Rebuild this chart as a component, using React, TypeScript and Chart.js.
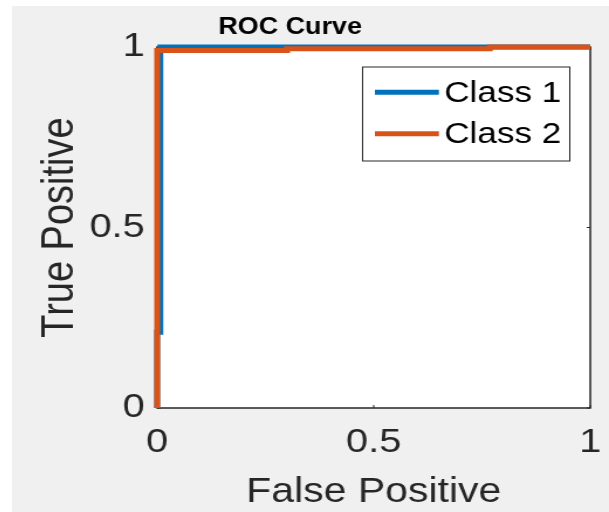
import React, { useEffect, useRef } from "react";
import { Chart, registerables } from "chart.js";

Chart.register(...registerables);

// ROC operating points (false positive rate, true positive rate)
const class1FPR = [0, 0, 0.006, 0.006, 0.008, 0.008, 1];
const class1TPR = [0, 0.21, 0.21, 0.625, 0.625, 1, 1];
const class2FPR = [0, 0, 0.3, 0.3, 0.768, 0.768, 1];
const class2TPR = [0, 0.99, 0.99, 0.995, 0.995, 1, 1];

const seriesNames = ["Class 1", "Class 2"];
const seriesColors = ["#0072BD", "#D95319"];
const axisTicks = [0, 0.5, 1];

const chartTitle = "ROC Curve";
const xTitle = "False Positive";
const yTitle = "True Positive";

const FONT = "'Liberation Sans', Arial, Helvetica, sans-serif";
const AXIS_COLOR = "#262626";
const FIGURE_BG = "#f0f0f0";

// The figure is rendered on a narrower backing canvas and widened by CSS.
const RENDER_W = 510;
const RENDER_H = 506;
const DISPLAY_W = 597;

const toPoints = (xs: number[], ys: number[]) => xs.map((x, i) => ({ x, y: ys[i] }));

const figurePlugin = {
  id: "figureDecor",
  beforeDraw(chart: any) {
    const { ctx, chartArea: a } = chart;
    ctx.save();
    ctx.fillStyle = FIGURE_BG;
    ctx.fillRect(0, 0, chart.width, chart.height);
    ctx.fillStyle = "#ffffff";
    ctx.fillRect(a.left, a.top, a.right - a.left, a.bottom - a.top);

    // title
    ctx.fillStyle = "#000000";
    ctx.font = `bold 23px ${FONT}`;
    ctx.textAlign = "center";
    ctx.textBaseline = "middle";
    ctx.fillText(chartTitle, a.left + 0.307 * (a.right - a.left), a.top - 19);
    ctx.restore();
  },
  beforeDatasetsDraw(chart: any) {
    const { ctx, chartArea: a, scales } = chart;
    ctx.save();
    ctx.strokeStyle = AXIS_COLOR;
    ctx.lineWidth = 1.5;
    ctx.strokeRect(a.left, a.top, a.right - a.left, a.bottom - a.top);
    // inward tick marks on all four sides
    ctx.lineWidth = 1;
    const len = 3;
    for (const v of axisTicks) {
      const px = scales.x.getPixelForValue(v);
      ctx.beginPath();
      ctx.moveTo(px, a.bottom);
      ctx.lineTo(px, a.bottom - len);
      ctx.moveTo(px, a.top);
      ctx.lineTo(px, a.top + len);
      const py = scales.y.getPixelForValue(v);
      ctx.moveTo(a.left, py);
      ctx.lineTo(a.left + len, py);
      ctx.moveTo(a.right, py);
      ctx.lineTo(a.right - len, py);
      ctx.stroke();
    }
    ctx.restore();
  },
  afterDatasetsDraw(chart: any) {
    const { ctx, chartArea: a } = chart;
    const boxW = 177;
    const boxH = 94;
    const bx = a.right - 17.5 - boxW;
    const by = a.top + 20;
    ctx.save();
    ctx.fillStyle = "#ffffff";
    ctx.fillRect(bx, by, boxW, boxH);
    ctx.strokeStyle = AXIS_COLOR;
    ctx.lineWidth = 1;
    ctx.strokeRect(bx, by, boxW, boxH);
    chart.data.datasets.forEach((ds: any, i: number) => {
      const y = by + 25.3 + i * 41.4;
      ctx.strokeStyle = ds.borderColor;
      ctx.lineWidth = 5;
      ctx.beginPath();
      ctx.moveTo(bx + 10.5, y);
      ctx.lineTo(bx + 65.2, y);
      ctx.stroke();
      ctx.fillStyle = "#000000";
      ctx.font = `30px ${FONT}`;
      ctx.textAlign = "left";
      ctx.textBaseline = "middle";
      ctx.fillText(ds.label, bx + 69.7, y + 1);
    });
    ctx.restore();
  },
};

export default function App() {
  const canvasRef = useRef<HTMLCanvasElement | null>(null);

  useEffect(() => {
    const canvas = canvasRef.current;
    if (!canvas) return;
    const setTicks = (s: any) => {
      s.ticks = axisTicks.map((v) => ({ value: v }));
    };
    const chart = new Chart(canvas, {
      type: "scatter",
      data: {
        datasets: [
          {
            label: seriesNames[0],
            data: toPoints(class1FPR, class1TPR),
            borderColor: seriesColors[0],
            backgroundColor: seriesColors[0],
            borderWidth: 5,
            showLine: true,
            pointRadius: 0,
            fill: false,
            clip: false as any,
            order: 2,
            borderJoinStyle: "miter",
            borderCapStyle: "butt",
          },
          {
            label: seriesNames[1],
            data: toPoints(class2FPR, class2TPR),
            borderColor: seriesColors[1],
            backgroundColor: seriesColors[1],
            borderWidth: 5,
            showLine: true,
            pointRadius: 0,
            fill: false,
            clip: false as any,
            order: 1,
            borderJoinStyle: "miter",
            borderCapStyle: "butt",
          },
        ],
      },
      options: {
        responsive: false,
        devicePixelRatio: 1,
        animation: false,
        events: [],
        layout: { padding: { top: 41, right: 16, bottom: 0, left: 0 } },
        plugins: {
          legend: { display: false },
          title: { display: false },
          tooltip: { enabled: false },
        },
        scales: {
          x: {
            type: "linear",
            min: 0,
            max: 1,
            afterBuildTicks: setTicks,
            afterFit: (s: any) => {
              s.height = 104;
              s.paddingLeft = 0;
              s.paddingRight = 0;
            },
            grid: { display: false, drawTicks: false },
            border: { display: false },
            ticks: {
              color: AXIS_COLOR,
              font: { family: FONT, size: 34 },
              padding: 14,
              maxRotation: 0,
              autoSkip: false,
              callback: (v: any) => String(v),
            },
            title: {
              display: true,
              text: xTitle,
              color: AXIS_COLOR,
              font: { family: FONT, size: 35, lineHeight: 1.1 },
              padding: 0,
            },
          },
          y: {
            type: "linear",
            min: 0,
            max: 1,
            afterBuildTicks: setTicks,
            afterFit: (s: any) => {
              s.width = 124;
              s.paddingTop = 0;
              s.paddingBottom = 0;
            },
            grid: { display: false, drawTicks: false },
            border: { display: false },
            ticks: {
              color: AXIS_COLOR,
              font: { family: FONT, size: 34 },
              padding: 10.6,
              autoSkip: false,
              callback: (v: any) => String(v),
            },
            title: {
              display: true,
              text: yTitle,
              color: AXIS_COLOR,
              font: { family: FONT, size: 38, lineHeight: 1.2 },
              padding: { top: 19, bottom: 0 },
            },
          },
        },
      },
      plugins: [figurePlugin],
    });
    return () => chart.destroy();
  }, []);

  return (
    <div style={{ position: "absolute", left: 0, top: 0, width: 609, height: 512, background: "#ffffff", overflow: "hidden" }}>
      <div style={{ position: "absolute", left: 12, top: 6, width: DISPLAY_W, height: RENDER_H, background: FIGURE_BG }}>
        <canvas
          ref={canvasRef}
          width={RENDER_W}
          height={RENDER_H}
          style={{ width: `${DISPLAY_W}px`, height: `${RENDER_H}px`, display: "block" }}
        />
      </div>
    </div>
  );
}
